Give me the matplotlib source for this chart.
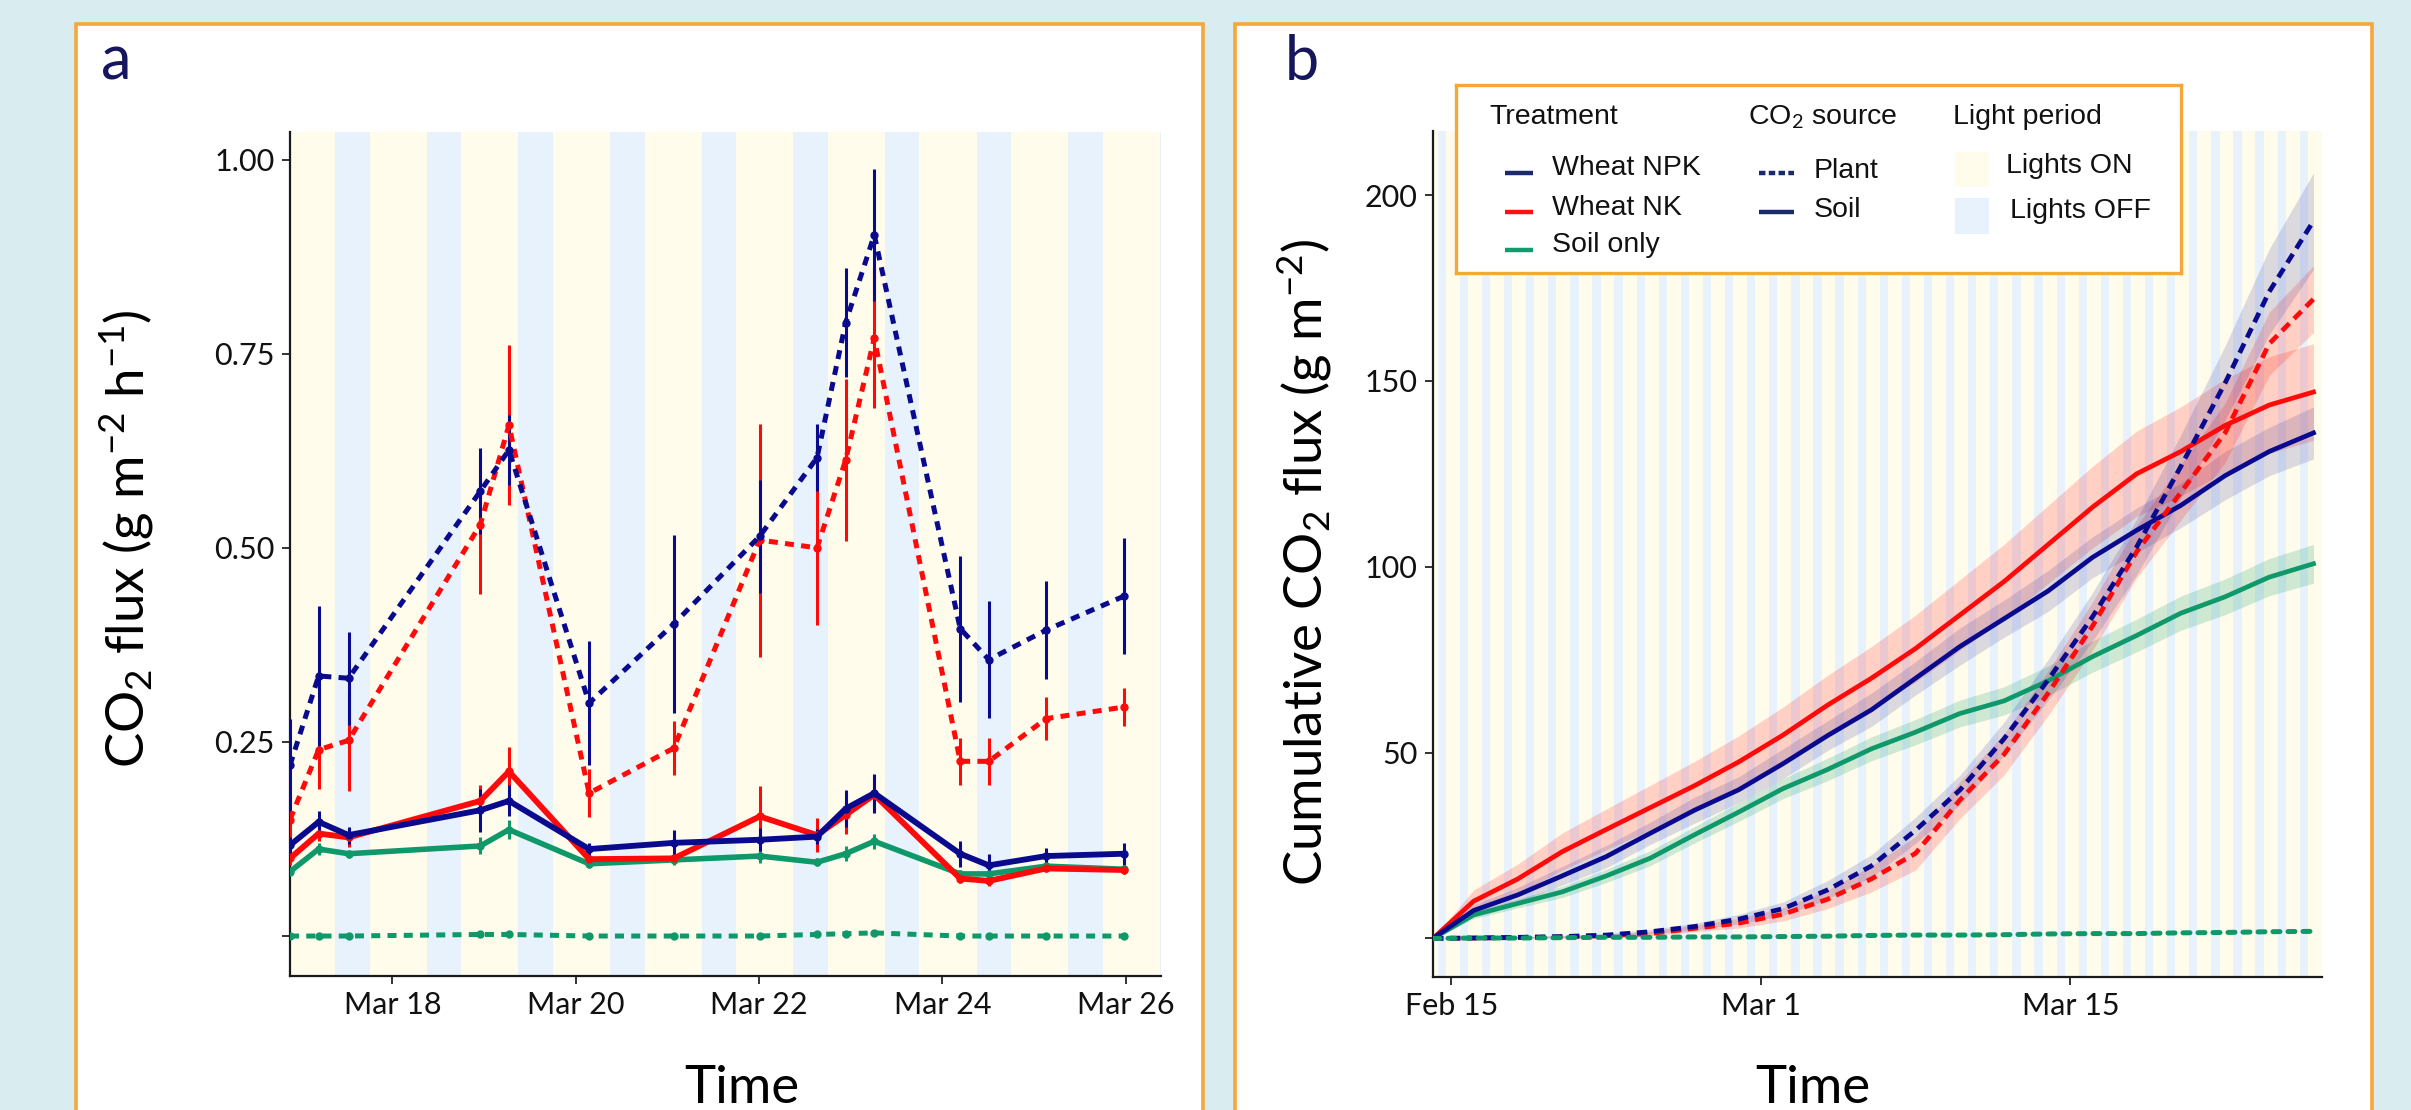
import matplotlib
matplotlib.use("Agg")
import matplotlib.pyplot as plt
from matplotlib.patches import Rectangle
import numpy as np
import pandas as pd

plt.rcParams['font.family'] = ['Lato', 'DejaVu Sans']
plt.rcParams['mathtext.fontset'] = 'custom'
plt.rcParams['mathtext.rm'] = 'Lato'
plt.rcParams['mathtext.it'] = 'Lato:italic'
plt.rcParams['mathtext.bf'] = 'Lato:bold'

# ---------------- data: panel a (hourly flux) ----------------
times_a = pd.to_datetime([
    "2023-03-16 21:10", "2023-03-17 04:40", "2023-03-17 12:30", "2023-03-18 23:00",
    "2023-03-19 06:30", "2023-03-20 03:30", "2023-03-21 01:40", "2023-03-22 00:10",
    "2023-03-22 15:10", "2023-03-22 22:40", "2023-03-23 06:10", "2023-03-24 04:40",
    "2023-03-24 12:10", "2023-03-25 03:10", "2023-03-25 23:40"])
plant_npk = [0.22, 0.335, 0.332, 0.573, 0.626, 0.30, 0.402, 0.515, 0.616, 0.79, 0.903, 0.396, 0.356, 0.394, 0.438]
plant_npk_err = [0.06, 0.09, 0.06, 0.055, 0.045, 0.08, 0.115, 0.073, 0.043, 0.07, 0.085, 0.094, 0.075, 0.063, 0.075]
plant_nk = [0.15, 0.24, 0.252, 0.53, 0.658, 0.184, 0.242, 0.510, 0.500, 0.613, 0.77, 0.225, 0.225, 0.28, 0.295]
plant_nk_err = [0.03, 0.05, 0.065, 0.09, 0.103, 0.031, 0.035, 0.15, 0.10, 0.104, 0.09, 0.03, 0.03, 0.028, 0.024]
plant_soilonly = [0.0, 0.0, 0.0, 0.002, 0.002, 0.0, 0.0, 0.0, 0.002, 0.003, 0.004, 0.0, 0.0, 0.0, 0.0]
plant_soilonly_err = [0.002] * 15
soil_npk = [0.117, 0.147, 0.130, 0.162, 0.174, 0.112, 0.120, 0.124, 0.128, 0.164, 0.184, 0.106, 0.091, 0.103, 0.106]
soil_npk_err = [0.01, 0.014, 0.011, 0.028, 0.02, 0.008, 0.017, 0.015, 0.01, 0.024, 0.025, 0.017, 0.015, 0.011, 0.014]
soil_nk = [0.10, 0.132, 0.127, 0.174, 0.212, 0.099, 0.100, 0.154, 0.130, 0.156, 0.182, 0.074, 0.071, 0.087, 0.085]
soil_nk_err = [0.008, 0.01, 0.012, 0.02, 0.031, 0.006, 0.006, 0.039, 0.022, 0.025, 0.02, 0.006, 0.006, 0.005, 0.005]
soil_only = [0.083, 0.112, 0.106, 0.116, 0.137, 0.093, 0.098, 0.103, 0.095, 0.106, 0.122, 0.08, 0.08, 0.09, 0.086]
soil_only_err = [0.005, 0.008, 0.005, 0.011, 0.012, 0.005, 0.006, 0.009, 0.005, 0.01, 0.01, 0.005, 0.005, 0.005, 0.005]

yticks_a = [0, 0.25, 0.5, 0.75, 1.0]
yticklabels_a = ["", "0.25", "0.50", "0.75", "1.00"]
xticks_a = pd.to_datetime(["2023-03-18", "2023-03-20", "2023-03-22", "2023-03-24", "2023-03-26"])
xticklabels_a = ["Mar 18", "Mar 20", "Mar 22", "Mar 24", "Mar 26"]

# ---------------- data: panel b (cumulative) ----------------
times_b = pd.to_datetime([
    "2023-02-14 04:00", "2023-02-16 00:00", "2023-02-18 00:00", "2023-02-20 00:00",
    "2023-02-22 00:00", "2023-02-24 00:00", "2023-02-26 00:00", "2023-02-28 00:00",
    "2023-03-02 00:00", "2023-03-04 00:00", "2023-03-06 00:00", "2023-03-08 00:00",
    "2023-03-10 00:00", "2023-03-12 00:00", "2023-03-14 00:00", "2023-03-16 00:00",
    "2023-03-18 00:00", "2023-03-20 00:00", "2023-03-22 00:00", "2023-03-24 00:00",
    "2023-03-26 00:00"])
cum_soil_nk = [0, 10, 16, 23.3, 29.3, 35.2, 41.1, 47.5, 54.7, 62.7, 70, 78, 87, 96, 106, 116, 125, 131, 138, 143.5, 147]
cum_soil_nk_se = [0, 3, 4, 5, 5.5, 6, 6.5, 7, 7.5, 8, 8.5, 9, 9.5, 10, 10.5, 11, 11.5, 12, 12.5, 13, 13]
cum_soil_npk = [0, 7.5, 11.7, 16.8, 22, 28.3, 34.5, 40, 47, 54.5, 61.5, 70, 78.5, 86, 93.5, 102.5, 109.8, 116.5, 124.5, 131, 136]
cum_soil_npk_se = [0, 1.5, 2, 2.5, 3, 3, 3.5, 3.5, 4, 4, 4.5, 4.5, 5, 5, 5.5, 5.5, 6, 6, 6.5, 6.5, 7]
cum_soil_only = [0, 6.3, 9.4, 12.5, 16.8, 21.6, 27.9, 34, 40.3, 45.4, 51, 55.5, 60.5, 63.9, 69.3, 75.8, 81.5, 87.5, 91.9, 97.2, 100.8]
cum_soil_only_se = [0, 1, 1.2, 1.5, 1.8, 2, 2.2, 2.5, 2.7, 3, 3.2, 3.4, 3.6, 3.8, 4, 4.2, 4.4, 4.6, 4.8, 5, 5.2]
cum_plant_npk = [0, 0.1, 0.3, 0.5, 0.9, 1.8, 3.2, 5.2, 8.0, 13.0, 19.5, 29.1, 39.9, 53.7, 69.6, 86.5, 105.3, 127, 149.4, 174, 193]
cum_plant_npk_se = [0, 0.1, 0.2, 0.3, 0.4, 0.6, 0.9, 1.3, 1.8, 2.5, 3, 3.5, 4, 4.5, 5.5, 6.5, 7.5, 8.5, 10, 11.5, 13]
cum_plant_nk = [0, 0.1, 0.2, 0.4, 0.7, 1.3, 2.7, 4.1, 6.5, 10.5, 16, 22.9, 37.2, 49.5, 66, 84, 104, 120, 136, 160, 172]
cum_plant_nk_se = [0, 0.1, 0.2, 0.3, 0.4, 0.6, 0.9, 1.3, 1.8, 2.5, 3.5, 4.5, 5, 5.5, 6, 6.5, 7, 7.5, 8, 8.5, 9]
cum_plant_soilonly = [0, 0.1, 0.1, 0.2, 0.3, 0.3, 0.4, 0.4, 0.5, 0.6, 0.8, 0.9, 0.9, 1.0, 1.2, 1.3, 1.3, 1.5, 1.6, 1.8, 1.9]

yticks_b = [0, 50, 100, 150, 200]
yticklabels_b = ["", "50", "100", "150", "200"]
xticks_b = pd.to_datetime(["2023-02-15", "2023-03-01", "2023-03-15"])
xticklabels_b = ["Feb 15", "Mar 1", "Mar 15"]

light_days = pd.date_range("2023-02-13", "2023-03-26", freq="D")

treatments = ["Wheat NPK", "Wheat NK", "Soil only"]
sources = ["Plant", "Soil"]
light_labels = ["Lights ON", "Lights OFF"]

# ---------------- style ----------------
C_NPK = "#0a0a8e"
C_NK = "#ff0a0a"
C_SOIL = "#0f986a"
C_ON = "#fffcec"
C_OFF = "#e7f2fc"
C_BG = "#d9ecef"
C_FRAME = "#f5a73a"
C_LEG = "#1a2a6c"

W, H = 2411, 1110
fig = plt.figure(figsize=(W / 100, H / 100), dpi=100, facecolor=C_BG)


def fx(px):
    return px / W


def fy(py):
    return 1 - py / H


# white panel frames
for x0, x1 in [(76, 1203), (1235, 2372)]:
    fig.patches.append(Rectangle((fx(x0), -0.05), fx(x1 - x0), fy(24) + 0.05,
                                 transform=fig.transFigure, facecolor="white",
                                 edgecolor=C_FRAME, lw=2.6, zorder=-5))

ax_a = fig.add_axes([fx(290), fy(976), fx(1161 - 290), (976 - 131.7) / H])
ax_b = fig.add_axes([fx(1433), fy(976.7), fx(2322 - 1433), (976.7 - 130.7) / H])

for ax in (ax_a, ax_b):
    ax.set_facecolor(C_ON)
    for d in light_days:
        ax.axvspan(d + pd.Timedelta(hours=9), d + pd.Timedelta(hours=18),
                   color=C_OFF, lw=0, zorder=0)
    for s in ("top", "right"):
        ax.spines[s].set_visible(False)
    for s in ("left", "bottom"):
        ax.spines[s].set_linewidth(1.6)
        ax.spines[s].set_color("#1a1a1a")
    ax.tick_params(axis="both", length=6, width=1.4, color="#333333",
                   labelsize=22, pad=5, labelcolor="#111111")

# ---------------- panel a ----------------
dash = (0, (1.8, 1.45))
series_a = [
    (plant_soilonly, plant_soilonly_err, C_SOIL, dash, 3.6),
    (soil_only, soil_only_err, C_SOIL, "-", 4.0),
    (plant_nk, plant_nk_err, C_NK, dash, 3.6),
    (soil_nk, soil_nk_err, C_NK, "-", 4.2),
    (plant_npk, plant_npk_err, C_NPK, dash, 3.6),
    (soil_npk, soil_npk_err, C_NPK, "-", 4.2),
]
for vals, errs, col, ls, lw in series_a:
    ax_a.errorbar(times_a, vals, yerr=errs, color=col, ls=ls, lw=lw,
                  marker="o", ms=5, elinewidth=2.2, capsize=0, zorder=3)

ax_a.set_xlim(pd.Timestamp("2023-03-16 21:10"), pd.Timestamp("2023-03-26 09:15"))
ax_a.set_ylim(-0.0515, 1.036)
ax_a.set_yticks(yticks_a)
ax_a.set_yticklabels(yticklabels_a)
ax_a.set_xticks(xticks_a)
ax_a.set_xticklabels(xticklabels_a)

# ---------------- panel b ----------------
series_b = [
    (cum_soil_only, cum_soil_only_se, C_SOIL, "-", 0.2),
    (cum_soil_nk, cum_soil_nk_se, C_NK, "-", 0.18),
    (cum_soil_npk, cum_soil_npk_se, C_NPK, "-", 0.14),
    (cum_plant_nk, cum_plant_nk_se, C_NK, (0, (2.2, 1.4)), 0.18),
    (cum_plant_npk, cum_plant_npk_se, C_NPK, (0, (2.2, 1.4)), 0.14),
]
for vals, se, col, ls, al in series_b:
    v = np.array(vals)
    s = np.array(se)
    ax_b.fill_between(times_b, v - s, v + s, color=col, alpha=al, lw=0, zorder=2)
    ax_b.plot(times_b, v, color=col, ls=ls, lw=3.4, zorder=3)
ax_b.plot(times_b, cum_plant_soilonly, color=C_SOIL, ls=(0, (1.4, 1.6)), lw=3.6,
          dash_capstyle="round", zorder=3)

ax_b.set_xlim(pd.Timestamp("2023-02-14 04:00"), pd.Timestamp("2023-03-26 09:15"))
ax_b.set_ylim(-10.3, 217.3)
ax_b.set_yticks(yticks_b)
ax_b.set_yticklabels(yticklabels_b)
ax_b.set_xticks(xticks_b)
ax_b.set_xticklabels(xticklabels_b)

# ---------------- labels ----------------
fig.text(fx(127), fy(539), r"CO$_2$ flux (g m$^{-2}$ h$^{-1}$)", rotation=90,
         ha="center", va="center", fontsize=38)
fig.text(fx(1305), fy(562), r"Cumulative CO$_2$ flux (g m$^{-2}$)", rotation=90,
         ha="center", va="center", fontsize=38)
fig.text(fx(742), fy(1103), "Time", ha="center", va="baseline", fontsize=38)
fig.text(fx(1813), fy(1103), "Time", ha="center", va="baseline", fontsize=38)
fig.text(fx(116), fy(80), "a", ha="center", va="baseline", fontsize=44, color="#16165e")
fig.text(fx(1302), fy(80), "b", ha="center", va="baseline", fontsize=44, color="#16165e")

# ---------------- legend box ----------------
lx0, lx1, ly0, ly1 = 1456, 2181, 85, 273
lg = fig.add_axes([fx(lx0), fy(ly1), fx(lx1 - lx0), (ly1 - ly0) / H], zorder=10)
lg.set_xlim(lx0, lx1)
lg.set_ylim(ly1, ly0)
lg.set_xticks([])
lg.set_yticks([])
lg.set_facecolor("white")
for s in lg.spines.values():
    s.set_color(C_FRAME)
    s.set_linewidth(2.4)

LF = dict(fontsize=20.5, family=["Liberation Sans", "DejaVu Sans"], color="#111111", va="baseline")
lg.text(1489, 124, "Treatment", **LF)
lg.text(1748, 124, r"CO$_2$ source", **LF)
lg.text(1953, 124, "Light period", **LF)

tr_cols = [C_LEG, "#ff1010", "#16996b"]
tr_key_y = [173, 212, 250]
tr_txt_y = [175, 215, 252]
for lab, col, ky, ty in zip(treatments, tr_cols, tr_key_y, tr_txt_y):
    lg.plot([1505, 1533], [ky, ky], color=col, lw=3.2, solid_capstyle="butt")
    lg.text(1552, ty, lab, **LF)

src_ls = [(0, (1.45, 0.75)), "-"]
src_key_y = [173, 212]
src_txt_y = [178, 217]
for lab, ls, ky, ty in zip(sources, src_ls, src_key_y, src_txt_y):
    lg.plot([1759, 1794], [ky, ky], color=C_LEG, lw=3.2, ls=ls, solid_capstyle="butt",
            dash_capstyle="butt")
    lg.text(1814, ty, lab, **LF)

lp_cols = [C_ON, C_OFF]
lp_y = [(152, 187), (198, 234)]
lp_txt = [(2006, 173), (2010, 218)]
for lab, col, (y0, y1), (tx, ty) in zip(light_labels, lp_cols, lp_y, lp_txt):
    lg.add_patch(Rectangle((1955, y0), 34, y1 - y0, facecolor=col, edgecolor="none"))
    lg.text(tx, ty, lab, **LF)

fig.savefig("out.png", dpi=100, facecolor=C_BG)
